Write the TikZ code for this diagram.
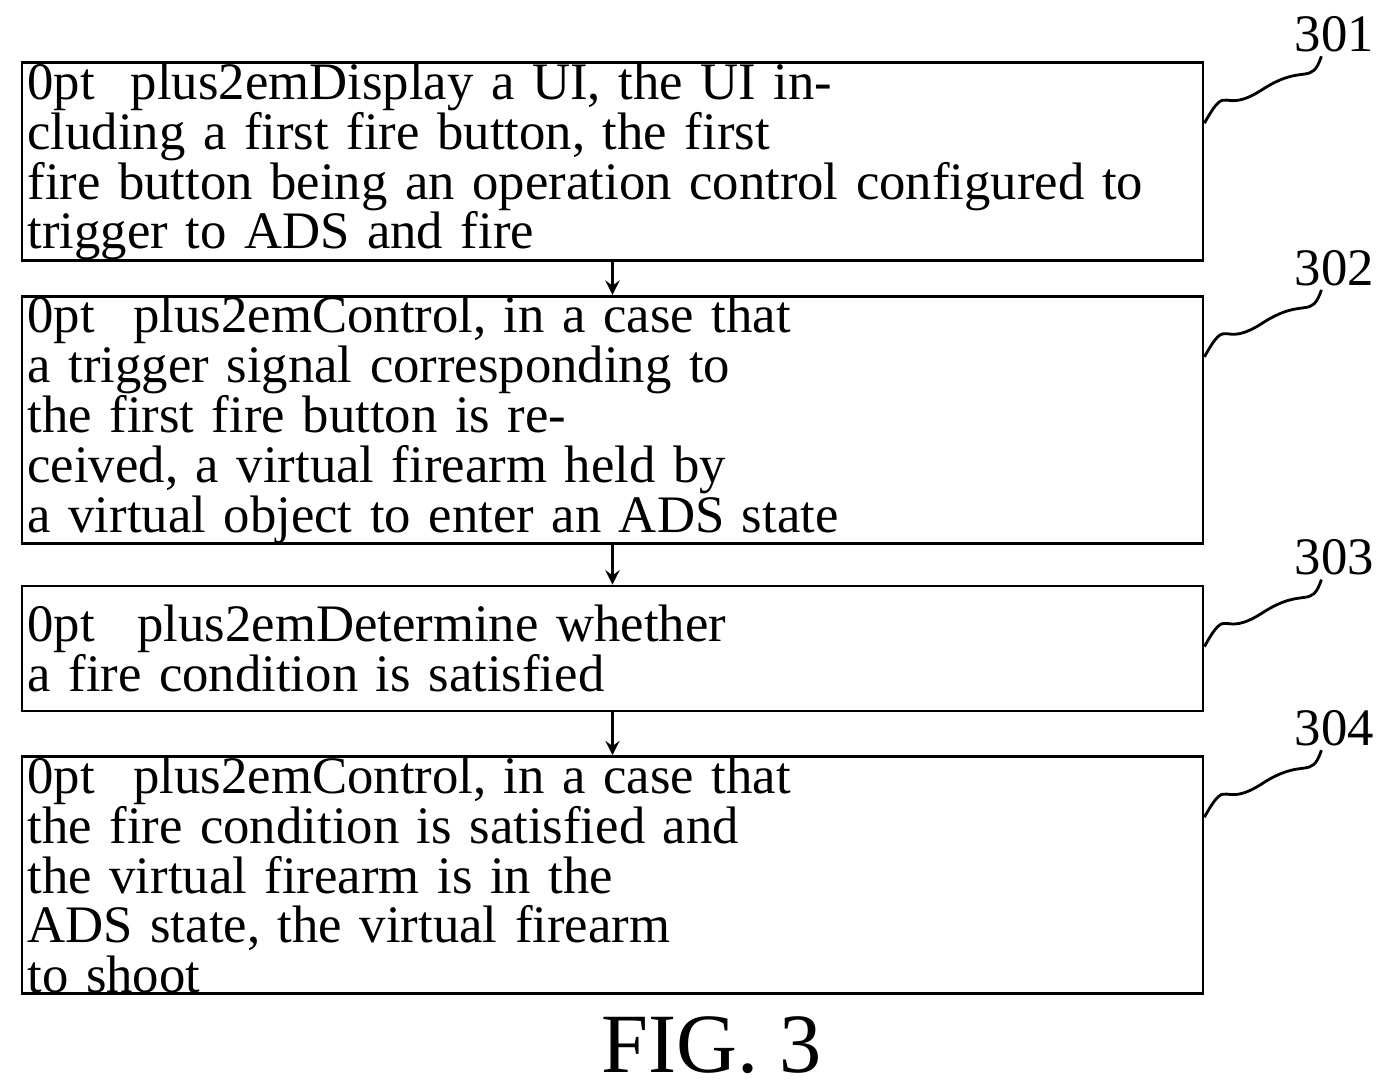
\documentclass[tikz,border=0pt]{standalone}
\usepackage{fontspec}
\setmainfont{Liberation Serif}
\usetikzlibrary{positioning}
\tikzstyle{stepbox} = [rectangle, minimum width=11.81cm, text width=11.7cm, align=center, draw=black, line width=0.8pt, font=\fontsize{15}{14.2}\selectfont\hyphenpenalty=10000, inner sep=0pt]
\tikzstyle{arrow} = [line width=0.8pt,->,>=stealth]
\tikzstyle{lead} = [line width=0.8pt]
\tikzstyle{num} = [font=\fontsize{15}{16}\selectfont]
\begin{document}
\begin{tikzpicture}
        \useasboundingbox (0,0) rectangle (13.9,10.92);
        \node (s301) [stepbox, minimum height=1.93cm] at (6.125,9.305) {Display a UI, the UI including a first fire button, the first\\ fire button being an operation control configured to\\ trigger to ADS and fire};
        \node (s302) [stepbox, minimum height=1.94cm] at (6.125,6.72) {Control, in a case that a trigger signal corresponding to\\ the first fire button is received, a virtual firearm held by\\ a virtual object to enter an ADS state};
        \node (s303) [stepbox, minimum height=1.25cm] at (6.125,4.435) {Determine whether a fire condition is satisfied};
        \node (s304) [stepbox, minimum height=1.9cm] at (6.125,2.17) {Control, in a case that the fire condition is satisfied and\\ the virtual firearm is in the ADS state, the virtual firearm\\ to shoot};

        \draw [arrow] (s301) -- (s302);
        \draw [arrow] (s302) -- (s303);
        \draw [arrow] (s303) -- (s304);

        % step numbers with curly leaders
        \foreach \s/\t in {s301/301,s302/302,s303/303,s304/304} {
            \node (\s n) [num] at ([xshift=1.3cm,yshift=0.27cm]\s.north east) {\t};
            \draw [lead] ([yshift=-0.62cm]\s.north east) .. controls +(0.25,0.45) and +(-0.45,-0.3) .. ++(0.6,0.35) .. controls +(0.4,0.25) and +(-0.1,-0.3) .. ([xshift=1.17cm,yshift=0.05cm]\s.north east);
        }

        \node (fig) [font=\fontsize{24}{26}\selectfont] at (7.12,0.47) {FIG. 3};
    \end{tikzpicture}
\end{document}
